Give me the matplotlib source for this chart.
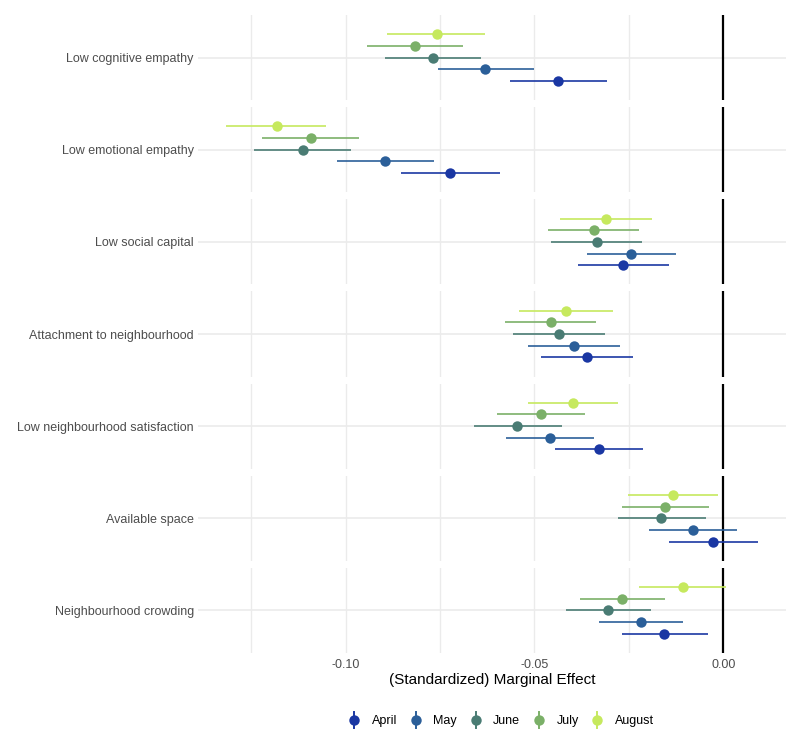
import matplotlib
matplotlib.use("Agg")
import matplotlib.pyplot as plt
from matplotlib.lines import Line2D
from matplotlib.legend_handler import HandlerBase

plt.rcParams['font.family'] = ['Liberation Sans', 'DejaVu Sans']

categories = ["Low cognitive empathy", "Low emotional empathy", "Low social capital",
              "Attachment to neighbourhood", "Low neighbourhood satisfaction",
              "Available space", "Neighbourhood crowding"]
months = ["April", "May", "June", "July", "August"]
colors = ["#1A37A3", "#2B5F99", "#4A7C74", "#7BB068", "#C6E95E"]

# estimates per category, order April..August
est_april  = [-0.0438, -0.0723, -0.0265, -0.0361, -0.0330, -0.0027, -0.0156]
est_may    = [-0.0631, -0.0895, -0.0244, -0.0395, -0.0460, -0.0081, -0.0219]
est_june   = [-0.0769, -0.1114, -0.0335, -0.0435, -0.0545, -0.0164, -0.0305]
est_july   = [-0.0816, -0.1093, -0.0343, -0.0457, -0.0484, -0.0154, -0.0267]
est_august = [-0.0759, -0.1183, -0.0311, -0.0416, -0.0399, -0.0134, -0.0107]

lo_april  = [-0.0566, -0.0853, -0.0386, -0.0484, -0.0447, -0.0144, -0.0269]
hi_april  = [-0.0309, -0.0590, -0.0145, -0.0238, -0.0212,  0.0092, -0.0041]
lo_may    = [-0.0756, -0.1024, -0.0362, -0.0517, -0.0575, -0.0197, -0.0330]
hi_may    = [-0.0502, -0.0766, -0.0124, -0.0274, -0.0342,  0.0036, -0.0106]
lo_june   = [-0.0895, -0.1244, -0.0455, -0.0556, -0.0661, -0.0280, -0.0417]
hi_june   = [-0.0641, -0.0985, -0.0216, -0.0314, -0.0427, -0.0047, -0.0192]
lo_july   = [-0.0943, -0.1222, -0.0463, -0.0578, -0.0600, -0.0268, -0.0379]
hi_july   = [-0.0689, -0.0964, -0.0224, -0.0336, -0.0367, -0.0037, -0.0155]
lo_august = [-0.0890, -0.1317, -0.0433, -0.0540, -0.0518, -0.0253, -0.0223]
hi_august = [-0.0630, -0.1051, -0.0188, -0.0291, -0.0278, -0.0014,  0.0008]

est = [est_april, est_may, est_june, est_july, est_august]
lo = [lo_april, lo_may, lo_june, lo_july, lo_august]
hi = [hi_april, hi_may, hi_june, hi_july, hi_august]

W, H = 800, 739
fig = plt.figure(figsize=(W / 100, H / 100), dpi=100)

left_px, right_px = 198, 786
top_px, bottom_px = 15, 653
n = len(categories)
gap = 7
ph = (bottom_px - top_px - gap * (n - 1)) / n

xlim = (-0.1391, 0.0166)
offsets = [-2, -1, 0, 1, 2]
grid_c = "#EBEBEB"

for i, cat in enumerate(categories):
    y0 = top_px + i * (ph + gap)
    ax = fig.add_axes([left_px / W, 1 - (y0 + ph) / H, (right_px - left_px) / W, ph / H])
    ax.set_xlim(*xlim)
    ax.set_ylim(-3.65, 3.65)
    for s in ax.spines.values():
        s.set_visible(False)
    for gx in [-0.125, -0.10, -0.075, -0.05, -0.025]:
        ax.axvline(gx, color=grid_c, lw=1.0, zorder=0)
    ax.axhline(0, color=grid_c, lw=1.2, zorder=0)
    ax.axvline(0, color="black", lw=1.6, zorder=1)
    for m in range(len(months)):
        y = offsets[m]
        ax.plot([lo[m][i], hi[m][i]], [y, y], color=colors[m], lw=1.4, alpha=0.85, zorder=2,
                solid_capstyle='butt')
        ax.plot([est[m][i]], [y], 'o', color=colors[m], ms=7.5, zorder=3, mew=0)
    ax.set_yticks([0])
    ax.set_yticklabels([cat], fontsize=9, color="#4D4D4D")
    ax.tick_params(axis='y', length=0, pad=3)
    ax.set_xticks([-0.10, -0.05, 0.00])
    if i == n - 1:
        ax.set_xticklabels(["-0.10", "-0.05", "0.00"], fontsize=9, color="#4D4D4D")
        ax.tick_params(axis='x', length=0, pad=4)
        ax.set_xlabel("(Standardized) Marginal Effect", fontsize=11, color="black", labelpad=2)
    else:
        ax.set_xticklabels([])
        ax.tick_params(axis='x', length=0)


class PointRangeHandler(HandlerBase):
    def create_artists(self, legend, orig_handle, xdescent, ydescent, width, height, fontsize, trans):
        c = orig_handle.get_color()
        cx = width / 2 - xdescent
        cy = height / 2 - ydescent
        l = Line2D([cx, cx], [cy - height * 0.9, cy + height * 0.9], color=c, lw=1.4, transform=trans)
        p = Line2D([cx], [cy], marker='o', color=c, ms=7.5, mew=0, lw=0, transform=trans)
        return [l, p]


handles = [Line2D([0], [0], color=c, marker='o', ms=7.5, lw=0, mew=0) for c in colors]
fig.legend(handles, months, loc='center', bbox_to_anchor=(501 / W, 1 - 721 / H), ncol=5,
           frameon=False, fontsize=9, handler_map={Line2D: PointRangeHandler()},
           handlelength=1.0, handletextpad=0.9, columnspacing=1.0)

fig.savefig("out.png", dpi=100, facecolor="white")
